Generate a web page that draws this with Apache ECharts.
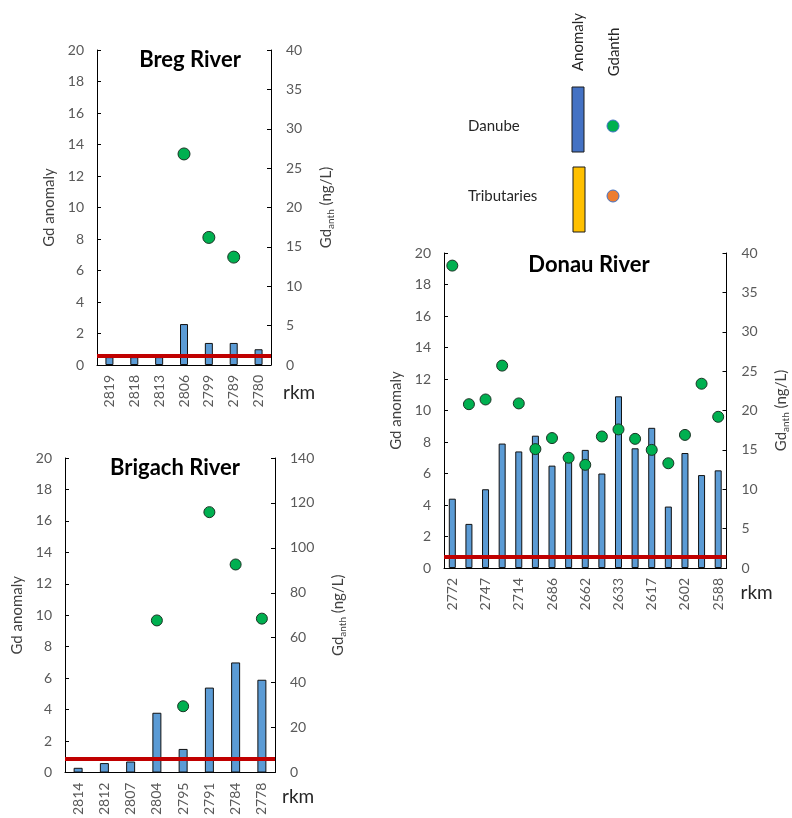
<!DOCTYPE html>
<html>
<head>
<meta charset="utf-8">
<script src="https://cdn.jsdelivr.net/npm/echarts@6/dist/echarts.min.js"></script>
<style>
html,body{margin:0;padding:0;background:#fff;}
#c{width:792px;height:818px;}
</style>
</head>
<body>
<div id="c"></div>
<script>
// ---- data ----
const bregCats = ['2819','2818','2813','2806','2799','2789','2780'];
const bregAnomaly = [0.5,0.5,0.5,2.6,1.4,1.4,1.0];
const bregGdanth = [null,null,null,26.8,16.2,13.7,null];
const bregThreshold = 0.6;

const brigachCats = ['2814','2812','2807','2804','2795','2791','2784','2778'];
const brigachAnomaly = [0.3,0.6,0.7,3.8,1.5,5.4,7.0,5.9];
const brigachGdanth = [null,null,null,67.7,29.5,115.9,92.6,68.5];
const brigachThreshold = 0.9;

const donauCats = ['2772','','2747','','2714','','2686','','2662','','2633','','2617','','2602','','2588'];
const donauAnomaly = [4.4,2.8,5.0,7.9,7.4,8.4,6.5,6.9,7.5,6.0,10.9,7.6,8.9,3.9,7.3,5.9,6.2];
const donauGdanth = [38.4,20.8,21.4,25.7,20.9,15.1,16.5,14.0,13.1,16.7,17.6,16.4,15.0,13.3,16.9,23.4,19.2];
const donauThreshold = 0.7;

const leftAxisTicks = {min:0, max:20, interval:2};
const bregRightTicks = {min:0, max:40, interval:5};
const brigachRightTicks = {min:0, max:140, interval:20};
const donauRightTicks = {min:0, max:40, interval:5};

const titles = ['Breg River','Brigach River','Donau River'];
const legendRows = ['Danube','Tributaries'];
const legendCols = ['Anomaly','Gdanth'];

// ---- styling ----
const FONT = 'Lato, "Open Sans", sans-serif';
const tickColor = '#595959';
const nameColor = '#404040';
const barColor = '#5B9BD5';
const dotColor = '#00B050';
const redColor = '#C00000';

const grids = [
  {left:97, top:50, width:174, height:315},
  {left:65, top:458, width:210, height:317},
  {left:444, top:253, width:289, height:315}
];

function xAxis(gi, cats, nameGapTop, nameGap){
  return {
    type:'category', gridIndex:gi, data:cats,
    axisLine:{lineStyle:{color:'#000', width:1}},
    axisTick:{show:false},
    axisLabel:{rotate:90, interval:0, margin:10, fontSize:14, color:tickColor, fontFamily:FONT},
    name:'rkm', nameLocation:'end', nameGap:nameGap,
    nameTextStyle:{fontSize:19, color:'#262626', fontFamily:FONT, verticalAlign:'top', padding:[nameGapTop,0,0,0]}
  };
}
function yLeft(gi){
  return {
    type:'value', gridIndex:gi, position:'left', min:leftAxisTicks.min, max:leftAxisTicks.max, interval:leftAxisTicks.interval,
    axisLine:{show:true, lineStyle:{color:'#000', width:1}},
    axisTick:{show:true, inside:true, length:4, lineStyle:{color:'#000'}},
    splitLine:{show:false},
    axisLabel:{margin:13, fontSize:14, color:tickColor, fontFamily:FONT},
    name:'Gd anomaly', nameLocation:'middle', nameRotate:90, nameGap:40,
    nameTextStyle:{fontSize:15, color:nameColor, fontFamily:FONT}
  };
}
function yRight(gi, t, gap){
  return {
    type:'value', gridIndex:gi, position:'right', min:t.min, max:t.max, interval:t.interval,
    axisLine:{show:true, lineStyle:{color:'#000', width:1}},
    axisTick:{show:true, inside:true, length:4, lineStyle:{color:'#000'}},
    splitLine:{show:false},
    axisLabel:{margin:15, fontSize:14, color:tickColor, fontFamily:FONT},
    name:'{a|Gd}{b|anth}{a| (ng/L)}', nameLocation:'middle', nameRotate:90, nameGap:gap,
    nameTextStyle:{fontSize:15, color:nameColor, fontFamily:FONT,
      rich:{a:{fontSize:15, color:nameColor, fontFamily:FONT, lineHeight:22},
            b:{fontSize:10, color:nameColor, fontFamily:FONT, lineHeight:22, padding:[9,0,0,0]}}}
  };
}
function barSeries(xi, yi, data, thr, bw){
  return {
    type:'bar', xAxisIndex:xi, yAxisIndex:yi, data:data, barWidth:bw,
    itemStyle:{color:barColor, borderColor:'#111', borderWidth:1},
    z:2,
    markLine:{silent:true, symbol:'none', label:{show:false}, z:5,
      lineStyle:{color:redColor, width:4, type:'solid'},
      data:[{yAxis:thr}]}
  };
}
function dotSeries(xi, yi, data, size){
  return {
    type:'scatter', xAxisIndex:xi, yAxisIndex:yi, data:data, symbolSize:size, z:6,
    itemStyle:{color:dotColor, borderColor:'#1a3324', borderWidth:1, opacity:1}
  };
}

const option = {
  animation:false,
  backgroundColor:'#fff',
  title:[
    {text:titles[0], left:185, top:44, textAlign:'center', textStyle:{fontSize:22, fontWeight:'bold', color:'#000', fontFamily:FONT}},
    {text:titles[1], left:170, top:452, textAlign:'center', textStyle:{fontSize:22, fontWeight:'bold', color:'#000', fontFamily:FONT}},
    {text:titles[2], left:584, top:249, textAlign:'center', textStyle:{fontSize:22, fontWeight:'bold', color:'#000', fontFamily:FONT}}
  ],
  grid:grids,
  xAxis:[
    xAxis(0, bregCats, 18, 12),
    xAxis(1, brigachCats, 15, 7),
    xAxis(2, donauCats, 15, 14)
  ],
  yAxis:[
    yLeft(0), yRight(0, bregRightTicks, 44),
    yLeft(1), yRight(1, brigachRightTicks, 52),
    yLeft(2), yRight(2, donauRightTicks, 44)
  ],
  series:[
    barSeries(0,0,bregAnomaly,bregThreshold,8),
    dotSeries(0,1,bregGdanth,12),
    barSeries(1,2,brigachAnomaly,brigachThreshold,9),
    dotSeries(1,3,brigachGdanth,11),
    barSeries(2,4,donauAnomaly,donauThreshold,7),
    dotSeries(2,5,donauGdanth,11)
  ],
  graphic:[
    {type:'text', x:578, y:42, rotation:Math.PI/2, style:{text:legendCols[0], font:'15px '+FONT, fill:'#262626', align:'center', verticalAlign:'middle'}},
    {type:'text', x:614, y:52, rotation:Math.PI/2, style:{text:legendCols[1], font:'15px '+FONT, fill:'#262626', align:'center', verticalAlign:'middle'}},
    {type:'rect', shape:{x:572, y:87, width:12, height:65}, style:{fill:'#4472C4', stroke:'#1a1a1a', lineWidth:1}},
    {type:'rect', shape:{x:573, y:167, width:12, height:65}, style:{fill:'#FFC000', stroke:'#1a1a1a', lineWidth:1}},
    {type:'circle', shape:{cx:613, cy:126, r:6}, style:{fill:dotColor, stroke:'#4472C4', lineWidth:1}},
    {type:'circle', shape:{cx:613, cy:196, r:6}, style:{fill:'#ED7D31', stroke:'#4472C4', lineWidth:1}},
    {type:'text', x:468, y:126, style:{text:legendRows[0], font:'15px '+FONT, fill:'#262626', align:'left', verticalAlign:'middle'}},
    {type:'text', x:468, y:196, style:{text:legendRows[1], font:'15px '+FONT, fill:'#262626', align:'left', verticalAlign:'middle'}}
  ]
};
const chart = echarts.init(document.getElementById('c'), null, {renderer:'canvas'});
chart.setOption(option);
</script>
</body>
</html>
